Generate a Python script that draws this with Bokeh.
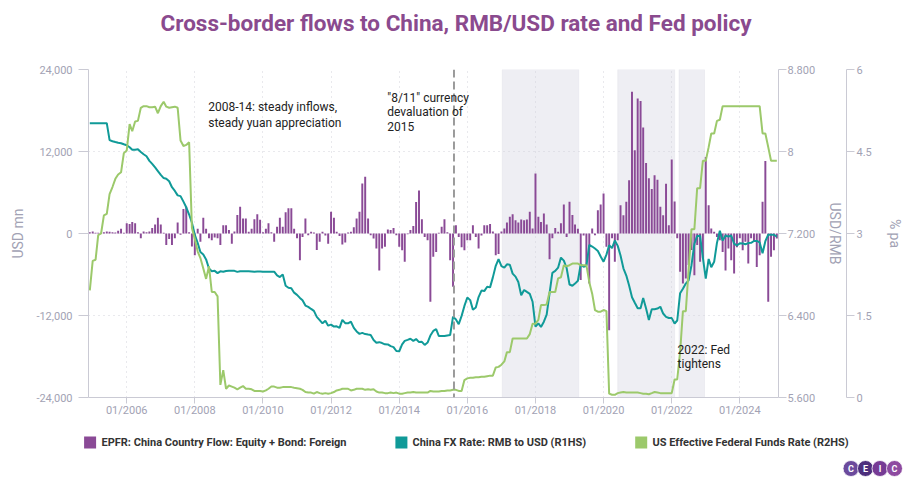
import pandas as pd
from bokeh.plotting import figure
from bokeh.models import (Range1d, LinearAxis, FixedTicker, NumeralTickFormatter,
                          CustomJSTickFormatter, DatetimeTickFormatter, BoxAnnotation,
                          Span, Label, ColumnDataSource)
from bokeh.layouts import column
from bokeh.embed import file_html
from bokeh.resources import INLINE
from bokeh.core.properties import value

# ---------------- data (monthly, Dec 2004 - Feb 2025) ----------------
months = pd.date_range("2004-12-01", "2025-02-01", freq="MS")

# EPFR China country flow, equity + bond, foreign (USD mn)
flow_2004 = [200]
flow_2005 = [300, 100, 100, 100, 200, 300, 250, 200, 150, 400, 700, 100]
flow_2006 = [1500, 1400, 1700, 1500, 200, -700, 300, 200, 300, 800, 1300, 2300]
flow_2007 = [1300, 100, -1700, -800, -1700, -700, 1600, -200, 3600, 3900, 200, -1900]
flow_2008 = [-3200, 700, -1200, 2300, 700, -700, -1000, -600, -700, -1700, 1200, 1200]
flow_2009 = [500, -1500, 300, 2700, 3900, 2200, 2200, 250, 700, 2100, 2800, 2000]
flow_2010 = [200, 700, 1500, 200, -1200, 1000, 2300, 1000, 3100, 3700, 3700, 700]
flow_2011 = [-700, -3900, -500, 2200, -250, 250, 150, -2400, -1200, 250, -300, -1500]
flow_2012 = [3200, 2300, 250, -350, -1600, -1300, 150, 250, 900, 2200, 3200, 7300]
flow_2013 = [8300, 2200, -250, -730, -2200, -5400, -2200, -1950, 600, 500, 800, -250]
flow_2014 = [-1950, -2450, -4150, -100, 500, 1100, 4600, 6300, 2100, -500, -1000, -10000]
flow_2015 = [-3400, -2700, 100, 1000, 2100, 200, -3900, -7800, 1200, -500, -2000, -2450]
flow_2016 = [-1000, -1000, 1200, -500, -2200, -300, 1200, 1200, 1400, 300, -3200, -3000]
flow_2017 = [300, 730, 1600, 2440, 2830, 1950, 1600, 2050, 1950, 2050, 3170, 730]
flow_2018 = [8780, 2440, 1700, 2930, 1300, -3750, -700, 800, 250, 1500, 4250, -500]
flow_2019 = [4640, 2700, 1300, 700, -6800, -300, -4600, -7300, 730, -250, 3400, 4250]
flow_2020 = [5860, -1950, -14150, -700, -4150, -1000, 4150, 2680, 4640, 7800, 20740, 12200]
flow_2021 = [19760, 19400, 15500, 10300, 8100, 6500, 8540, 7850, 3900, 2680, 7270, 1220]
flow_2022 = [10830, 4700, -700, -5600, -7300, -6600, -4600, -2400, -6100, -1700, -4150, -3650]
flow_2023 = [11200, 4150, 730, 250, -500, -1000, -2700, -5400, -2200, -3900, -5850, -2000]
flow_2024 = [-700, -2450, -1200, -4400, -700, -1200, -4900, -3200, 4640, 10600, -10000, -3400]
flow_2025 = [-2440, -730]

# China FX rate, RMB per USD (R1HS)
fx_2004 = [8.2765]
fx_2005 = [8.2765, 8.2765, 8.2765, 8.2765, 8.2765, 8.2765, 8.1111, 8.1000, 8.0920, 8.0845, 8.0805, 8.0702]
fx_2006 = [8.0608, 8.0415, 8.0170, 8.0165, 8.0215, 7.9956, 7.9732, 7.9538, 7.9087, 7.8792, 7.8450, 7.8087]
fx_2007 = [7.7714, 7.7408, 7.7342, 7.7096, 7.6516, 7.6155, 7.5720, 7.5649, 7.5108, 7.4555, 7.3850, 7.3046]
fx_2008 = [7.1870, 7.1068, 7.0190, 6.9943, 6.9472, 6.8591, 6.8322, 6.8355, 6.8131, 6.8310, 6.8272, 6.8346]
fx_2009 = [6.8375, 6.8360, 6.8359, 6.8258, 6.8319, 6.8319, 6.8315, 6.8308, 6.8290, 6.8271, 6.8282, 6.8282]
fx_2010 = [6.8270, 6.8269, 6.8263, 6.8263, 6.8275, 6.7909, 6.7750, 6.8011, 6.6905, 6.6705, 6.6655, 6.6227]
fx_2011 = [6.6017, 6.5713, 6.5483, 6.4970, 6.4845, 6.4640, 6.4447, 6.3867, 6.3549, 6.3233, 6.3482, 6.3009]
fx_2012 = [6.3115, 6.2919, 6.2943, 6.2787, 6.3566, 6.3249, 6.3241, 6.3393, 6.2796, 6.2441, 6.2208, 6.2303]
fx_2013 = [6.2186, 6.2141, 6.2108, 6.1612, 6.1342, 6.1399, 6.1312, 6.1188, 6.1180, 6.1008, 6.0919, 6.0537]
fx_2014 = [6.0513, 6.1176, 6.1521, 6.1624, 6.1731, 6.1528, 6.1701, 6.1405, 6.1432, 6.1128, 6.1360, 6.2046]
fx_2015 = [6.2495, 6.2664, 6.2011, 6.2004, 6.2000, 6.2056, 6.2097, 6.3893, 6.3613, 6.3154, 6.3962, 6.4936]
fx_2016 = [6.5755, 6.5500, 6.4565, 6.4775, 6.5795, 6.6432, 6.6380, 6.6812, 6.6745, 6.7720, 6.8850, 6.9495]
fx_2017 = [6.8826, 6.8680, 6.8993, 6.8950, 6.8090, 6.7793, 6.7267, 6.5970, 6.6493, 6.6300, 6.6112, 6.5342]
fx_2018 = [6.2918, 6.3228, 6.2881, 6.3393, 6.4095, 6.6166, 6.8165, 6.8347, 6.8680, 6.9646, 6.9357, 6.8632]
fx_2019 = [6.7025, 6.6901, 6.7112, 6.7393, 6.8992, 6.8747, 6.8841, 7.0883, 7.0729, 7.0533, 7.0298, 6.9762]
fx_2020 = [6.9249, 6.9938, 7.0851, 7.0571, 7.1316, 7.0795, 6.9848, 6.8605, 6.7896, 6.6918, 6.5782, 6.5249]
fx_2021 = [6.4709, 6.4713, 6.5713, 6.4672, 6.3572, 6.4601, 6.4602, 6.4679, 6.4854, 6.4192, 6.3872, 6.3757]
fx_2022 = [6.3746, 6.3222, 6.3509, 6.6177, 6.6607, 6.7114, 6.7437, 6.8906, 7.0998, 7.1768, 7.1769, 6.9646]
fx_2023 = [6.7604, 6.9519, 6.8717, 6.9240, 7.1085, 7.2258, 7.1305, 7.1800, 7.1700, 7.1800, 7.1018, 7.0827]
fx_2024 = [7.1039, 7.1036, 7.0950, 7.1063, 7.1088, 7.1268, 7.1270, 7.1124, 7.0074, 7.1250, 7.1877, 7.1884]
fx_2025 = [7.1879, 7.1693]

# US effective federal funds rate, % pa (R2HS)
fed_2004 = [1.96]
fed_2005 = [2.50, 2.52, 2.97, 3.00, 3.33, 3.36, 3.72, 3.85, 4.00, 4.08, 4.12, 4.47]
fed_2006 = [4.52, 5.00, 4.87, 5.05, 5.06, 5.30, 5.33, 5.33, 5.31, 5.31, 5.32, 5.20]
fed_2007 = [5.33, 5.41, 5.32, 5.30, 5.31, 5.32, 5.30, 4.70, 4.60, 4.62, 4.67, 3.10]
fed_2008 = [2.90, 2.67, 2.55, 2.36, 2.17, 2.40, 1.93, 1.93, 1.85, 0.23, 0.50, 0.16]
fed_2009 = [0.22, 0.20, 0.18, 0.15, 0.18, 0.21, 0.16, 0.16, 0.15, 0.12, 0.12, 0.12]
fed_2010 = [0.11, 0.13, 0.16, 0.20, 0.20, 0.18, 0.18, 0.19, 0.19, 0.19, 0.19, 0.18]
fed_2011 = [0.17, 0.16, 0.14, 0.10, 0.09, 0.09, 0.07, 0.10, 0.08, 0.07, 0.08, 0.07]
fed_2012 = [0.08, 0.10, 0.13, 0.14, 0.16, 0.16, 0.16, 0.13, 0.14, 0.16, 0.16, 0.16]
fed_2013 = [0.14, 0.15, 0.14, 0.15, 0.11, 0.09, 0.09, 0.08, 0.08, 0.09, 0.08, 0.09]
fed_2014 = [0.07, 0.07, 0.08, 0.09, 0.09, 0.10, 0.09, 0.09, 0.09, 0.09, 0.09, 0.12]
fed_2015 = [0.11, 0.11, 0.11, 0.12, 0.12, 0.13, 0.13, 0.14, 0.14, 0.12, 0.12, 0.32]
fed_2016 = [0.35, 0.36, 0.36, 0.37, 0.37, 0.38, 0.38, 0.39, 0.40, 0.40, 0.55, 0.56]
fed_2017 = [0.60, 0.66, 0.83, 0.83, 1.08, 1.08, 1.08, 1.08, 1.08, 1.08, 1.16, 1.35]
fed_2018 = [1.35, 1.42, 1.69, 1.69, 1.70, 1.93, 1.93, 1.93, 2.18, 2.20, 2.42, 2.40]
fed_2019 = [2.42, 2.45, 2.45, 2.45, 2.42, 2.42, 2.42, 2.11, 1.90, 1.60, 1.57, 1.57]
fed_2020 = [1.60, 1.58, 0.07, 0.05, 0.05, 0.08, 0.09, 0.10, 0.09, 0.09, 0.09, 0.09]
fed_2021 = [0.09, 0.08, 0.07, 0.07, 0.06, 0.08, 0.10, 0.09, 0.08, 0.08, 0.08, 0.08]
fed_2022 = [0.08, 0.33, 0.33, 0.83, 1.58, 1.58, 2.33, 3.08, 3.08, 3.83, 3.83, 4.33]
fed_2023 = [4.33, 4.58, 4.83, 4.83, 5.06, 5.08, 5.33, 5.33, 5.33, 5.33, 5.33, 5.33]
fed_2024 = [5.33, 5.33, 5.33, 5.33, 5.33, 5.33, 5.33, 5.33, 4.83, 4.83, 4.58, 4.33]
fed_2025 = [4.33, 4.33]

years = list(range(2004, 2026))
flows = sum((globals()[f"flow_{y}"] for y in years), [])
fx = sum((globals()[f"fx_{y}"] for y in years), [])
fed = sum((globals()[f"fed_{y}"] for y in years), [])

tick_years = [2006, 2008, 2010, 2012, 2014, 2016, 2018, 2020, 2022, 2024]
left_ticks = [-24000, -12000, 0, 12000, 24000]
fx_ticks = [5.6, 6.4, 7.2, 8.0, 8.8]
fed_ticks = [0, 1.5, 3, 4.5, 6]
shaded_periods = [("2017-01-10", "2019-04-10"), ("2020-06-01", "2022-02-02"), ("2022-03-20", "2022-12-19")]

title_text = ["Cross-border flows to China, RMB/USD rate and Fed policy"]
legend_labels = ["EPFR: China Country Flow: Equity + Bond: Foreign",
                 "China FX Rate: RMB to USD (R1HS)",
                 "US Effective Federal Funds Rate (R2HS)"]

# ---------------- styling ----------------
PURPLE = "#8a4a96"
TEAL = "#109a98"
GREEN = "#9cc96b"
AXIS = "#cacad4"
TICKTXT = "#a2a2b4"
GRID = "#d2d2da"
FONT = "Roboto"
W = 913

def ms(s):
    return pd.Timestamp(s).value // 10**6

def strip(height):
    f = figure(width=W, height=height, x_range=Range1d(0, W), y_range=Range1d(height, 0),
               output_backend="svg", toolbar_location=None, title=None,
               min_border_left=0, min_border_right=0, min_border_top=0, min_border_bottom=0)
    f.frame_align = False
    f.axis.visible = False
    f.grid.visible = False
    f.outline_line_color = None
    return f

# ---------------- top strip: title ----------------
H0 = 40
t = strip(H0)
t.text(x=[455.5], y=[22], text=title_text, text_font=value(FONT), text_font_size="22.5px",
       text_font_style="bold", text_color="#8a4a8e", text_align="center", text_baseline="middle")

# ---------------- main chart ----------------
src = ColumnDataSource(dict(date=months, flow=flows, fx=fx, fed=fed))

H = 392
p = figure(width=W, height=H, x_axis_type="datetime", title=None,
           x_range=Range1d(ms("2004-11-17"), ms("2025-02-19")),
           y_range=Range1d(-24000, 24000),
           output_backend="svg", toolbar_location=None,
           min_border_left=88, min_border_right=135, min_border_top=29, min_border_bottom=35)
p.frame_align = False
p.extra_y_ranges = {"fx": Range1d(5.6, 8.8), "fed": Range1d(0, 6)}
p.outline_line_color = None
p.background_fill_color = "white"

xa = p.below[0]   # bottom datetime axis
ya = p.left[0]    # left axis

def style_axis(ax, tick_out=8, standoff=2):
    ax.axis_line_color = AXIS
    ax.major_tick_line_color = AXIS
    ax.major_tick_out = tick_out
    ax.major_tick_in = 0
    ax.minor_tick_line_color = None
    ax.major_label_standoff = standoff
    ax.major_label_text_font = FONT
    ax.major_label_text_font_size = "11px"
    ax.major_label_text_color = TICKTXT
    ax.axis_label_text_font = FONT
    ax.axis_label_text_font_size = "14px"
    ax.axis_label_text_font_style = "normal"
    ax.axis_label_text_color = TICKTXT

# x axis
xa.ticker = FixedTicker(ticks=[ms(f"{y}-01-01") for y in tick_years])
fmt = "%m/%Y"
xa.formatter = DatetimeTickFormatter(years=fmt, months=fmt, days=fmt, hours=fmt,
                                     hourmin=fmt, minutes=fmt, minsec=fmt, seconds=fmt,
                                     milliseconds=fmt, microseconds=fmt)
style_axis(xa, tick_out=6, standoff=0)

# left axis
ya.ticker = FixedTicker(ticks=left_ticks)
ya.formatter = NumeralTickFormatter(format="0,0")
ya.axis_label = "USD mn"
style_axis(ya, tick_out=10, standoff=6)
ya.axis_label_standoff = 7

# grids
p.xgrid.ticker = xa.ticker
p.ygrid.ticker = ya.ticker
for g in (p.xgrid[0], p.ygrid[0]):
    g.grid_line_color = GRID
    g.grid_line_dash = "1 4"
    g.grid_line_width = 1

# right axes
ax_fx = LinearAxis(y_range_name="fx", ticker=FixedTicker(ticks=fx_ticks),
                   formatter=CustomJSTickFormatter(code="return Math.abs(tick-8)<1e-9 ? '8' : tick.toFixed(3);"),
                   axis_label="USD/RMB")
style_axis(ax_fx, tick_out=8, standoff=1)
ax_fx.axis_label_standoff = 9
p.add_layout(ax_fx, "right")

ax_fed = LinearAxis(y_range_name="fed", ticker=FixedTicker(ticks=fed_ticks),
                    formatter=NumeralTickFormatter(format="0.[0]"), axis_label="% pa")
style_axis(ax_fed, tick_out=8, standoff=2)
ax_fed.axis_label_standoff = 12
p.add_layout(ax_fed, "right")

# shaded periods
for a, b in shaded_periods:
    p.add_layout(BoxAnnotation(left=ms(a), right=ms(b), fill_color="#eeeef3", fill_alpha=1.0,
                               line_color="#d8d8e1", line_width=1, level="image"))

# data marks
p.vbar(x="date", top="flow", bottom=0, width=21 * 86400000, source=src,
       fill_color=PURPLE, line_color=None)
p.line(x="date", y="fx", source=src, y_range_name="fx", line_color=TEAL, line_width=2)
p.line(x="date", y="fed", source=src, y_range_name="fed", line_color=GREEN, line_width=2)

# devaluation marker
p.add_layout(Span(location=ms("2015-08-11"), dimension="height", line_color="#9a9a9a",
                  line_width=2, line_dash="8 4"))

def note(x, y, txt):
    p.add_layout(Label(x=ms(x), y=y, text=txt, text_font=FONT, text_font_size="12px",
                       text_color="#222222", text_baseline="middle", text_align="left"))

note("2008-05-24", 18440, "2008-14: steady inflows,")
note("2008-05-24", 16240, "steady yuan appreciation")
note("2013-08-26", 19900, "\"8/11\" currency")
note("2013-08-26", 17800, "devaluation of")
note("2013-08-26", 15600, "2015")
note("2022-03-05", -17080, "2022: Fed")
note("2022-03-05", -19170, "tightens")

# ---------------- bottom strip: legend and logo ----------------
H2 = 56
q = strip(H2)
leg = ColumnDataSource(dict(sx=[89.6, 400.9, 640.7], tx=[101, 412, 652],
                            color=[PURPLE, TEAL, GREEN], label=legend_labels))
q.rect(x="sx", y=10, width=12, height=12, fill_color="color", line_color=None, source=leg)
q.text(x="tx", y=10, text="label", source=leg, text_font=value(FONT), text_font_size="11px",
       text_font_style="bold", text_color="#333333", text_baseline="middle", text_align="left")

logo = ColumnDataSource(dict(x=[850.5, 865, 879.5, 894], letter=["C", "E", "I", "C"],
                             color=["#6b4a9c", "#4d2f7d", "#763b95", "#8d4aa0"]))
q.scatter(x="x", y=36, size=16, marker="circle", fill_color="color", line_color="white",
          line_width=0.8, source=logo)
q.text(x="x", y=36, text="letter", source=logo, text_font=value(FONT), text_font_size="9px",
       text_font_style="bold", text_color="white", text_align="center", text_baseline="middle")

layout = column(t, p, q, spacing=0)
open("out.html", "w").write(file_html(layout, INLINE))
